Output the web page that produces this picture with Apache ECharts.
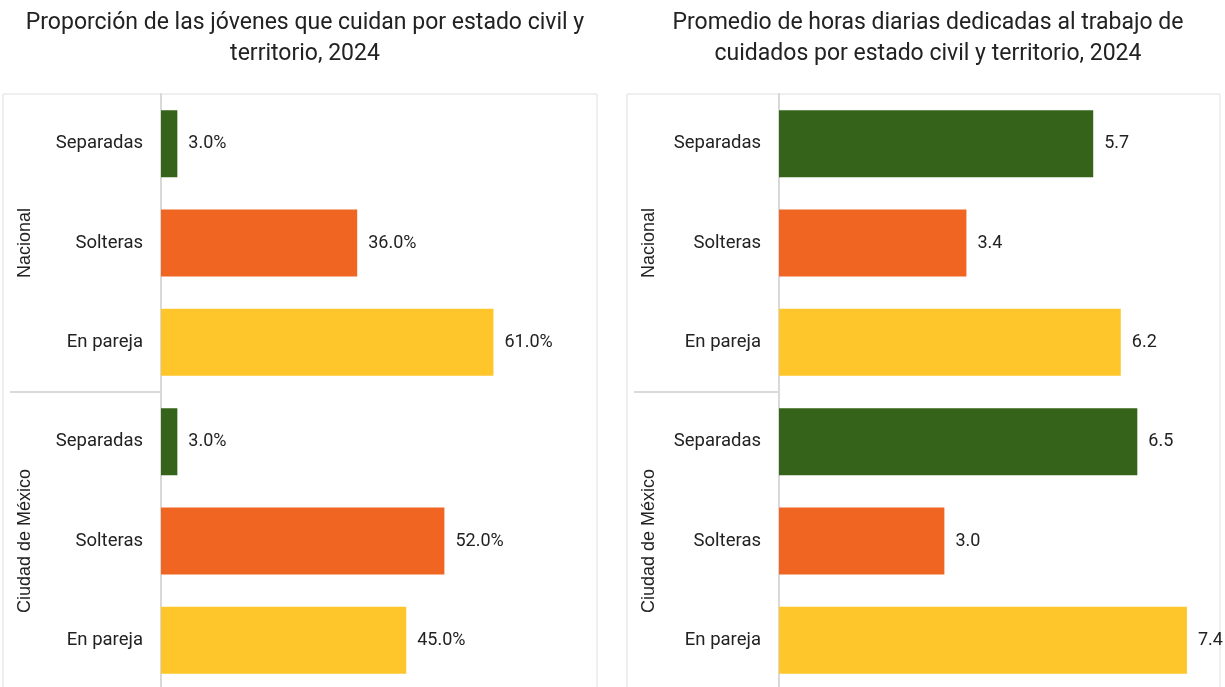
<!DOCTYPE html>
<html>
<head>
<meta charset="utf-8">
<script src="https://cdn.jsdelivr.net/npm/echarts@6/dist/echarts.min.js"></script>
<style>
html,body{margin:0;padding:0;background:#fff;}
#c{width:1225px;height:687px;}
</style>
</head>
<body>
<div id="c"></div>
<script>
var groups = ['Nacional', 'Ciudad de México'];
var statuses = ['Separadas', 'Solteras', 'En pareja'];
var colors = ['#35631a', '#f16522', '#fec62a'];
var propNacional = [3.0, 36.0, 61.0];
var propCDMX = [3.0, 52.0, 45.0];
var horasNacional = [5.7, 3.4, 6.2];
var horasCDMX = [6.5, 3.0, 7.4];
var titleLeft = 'Proporción de las jóvenes que cuidan por estado civil y\nterritorio, 2024';
var titleRight = 'Promedio de horas diarias dedicadas al trabajo de\ncuidados por estado civil y territorio, 2024';

var cats = [];
groups.forEach(function (g) { statuses.forEach(function (s) { cats.push(g + '|' + s); }); });

function mkData(a, b) {
  return a.concat(b).map(function (v, i) {
    return { value: v, itemStyle: { color: colors[i % 3] } };
  });
}

var font = 'Roboto';
var gridTop = 94, gridH = 596;
var chart = echarts.init(document.getElementById('c'));

function yAxis(idx) {
  return {
    type: 'category', gridIndex: idx, data: cats, inverse: true,
    axisLine: { show: true, lineStyle: { color: '#d9d9d9', width: 2 } },
    axisTick: { show: false },
    axisLabel: {
      formatter: function (v) { return v.split('|')[1]; },
      fontFamily: font, fontSize: 18.5, color: '#222', margin: 18
    }
  };
}
function xAxis(idx, max) {
  return { type: 'value', gridIndex: idx, min: 0, max: max, show: false, splitLine: { show: false } };
}
function series(idx, data, fmt) {
  return {
    type: 'bar', xAxisIndex: idx, yAxisIndex: idx, data: data, barWidth: 67,
    label: {
      show: true, position: 'right', distance: 11,
      fontFamily: font, fontSize: 18, color: '#222',
      formatter: fmt
    }
  };
}

chart.setOption({
  animation: false,
  title: [
    { text: titleLeft, left: 300, top: 3, textAlign: 'center',
      textStyle: { fontFamily: font, fontSize: 23, fontWeight: 'normal', color: '#222', lineHeight: 31 } },
    { text: titleRight, left: 923, top: 3, textAlign: 'center',
      textStyle: { fontFamily: font, fontSize: 23, fontWeight: 'normal', color: '#222', lineHeight: 31 } }
  ],
  grid: [
    { left: 161, top: gridTop, width: 436, height: gridH, outerBoundsMode: 'none', containLabel: false },
    { left: 779, top: gridTop, width: 441, height: gridH, outerBoundsMode: 'none', containLabel: false }
  ],
  xAxis: [xAxis(0, 80), xAxis(1, 8)],
  yAxis: [yAxis(0), yAxis(1)],
  series: [
    series(0, mkData(propNacional, propCDMX), function (p) { return p.value.toFixed(1) + '%'; }),
    series(1, mkData(horasNacional, horasCDMX), function (p) { return p.value.toFixed(1); })
  ]
});

// decorations: panel frames, group dividers and group labels, placed from the axes
function decorations() {
  var els = [];
  var panels = [{ gi: 0, x0: 3, x1: 597 }, { gi: 1, x0: 627, x1: 1220 }];
  panels.forEach(function (p) {
    var axisX = chart.convertToPixel({ gridIndex: p.gi }, [0, 0])[0];
    els.push({ type: 'rect', shape: { x: p.x0, y: 94, width: p.x1 - p.x0, height: 700 },
      style: { fill: 'none', stroke: '#e0e0e0', lineWidth: 1 }, z: -1 });
    var yFirst = chart.convertToPixel({ yAxisIndex: p.gi }, cats[0]);
    var step = chart.convertToPixel({ yAxisIndex: p.gi }, cats[1]) - yFirst;
    var yDiv = yFirst + step * 2.5;
    els.push({ type: 'line', shape: { x1: p.x0 + 7, y1: yDiv, x2: axisX, y2: yDiv },
      style: { stroke: '#d9d9d9', lineWidth: 2 } });
    groups.forEach(function (g, gi) {
      var yc = yFirst + step * (gi * 3 + 1);
      els.push({ type: 'text', x: p.x0 + 22, y: yc, rotation: Math.PI / 2,
        style: { text: g, fontFamily: 'Liberation Sans', fontSize: 18, fill: '#222',
          align: 'center', verticalAlign: 'middle' } });
    });
  });
  return els;
}
chart.setOption({ graphic: decorations() });
</script>
</body>
</html>
